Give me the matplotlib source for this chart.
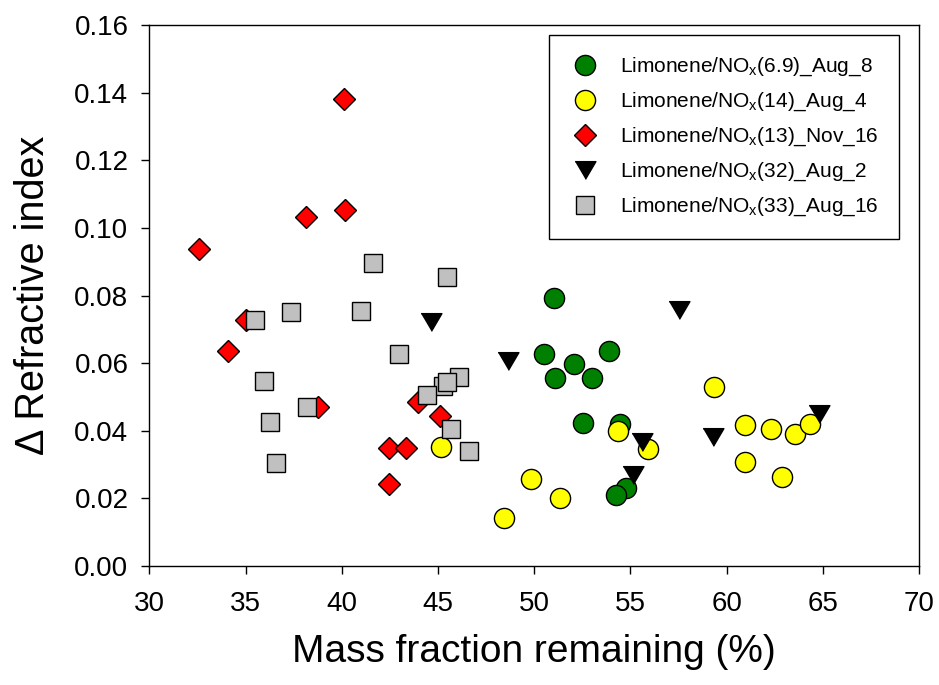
import matplotlib
matplotlib.use("Agg")
import matplotlib.pyplot as plt

plt.rcParams['font.family'] = ['Liberation Sans', 'DejaVu Sans']
plt.rcParams['mathtext.fontset'] = 'custom'
plt.rcParams['mathtext.rm'] = 'Liberation Sans'
plt.rcParams['mathtext.it'] = 'Liberation Sans'

# Limonene/NOx(6.9)_Aug_8
x_aug8 = [51.05, 50.51, 52.09, 53.91, 51.07, 53.01, 52.56, 54.46, 54.76, 54.26]
y_aug8 = [0.0793, 0.0627, 0.0597, 0.0635, 0.0556, 0.0557, 0.0422, 0.0420, 0.0232, 0.0209]

# Limonene/NOx(14)_Aug_4
x_aug4 = [45.15, 49.85, 51.36, 48.45, 54.38, 55.94, 59.33, 60.95, 62.31, 63.54, 64.34, 60.95, 62.87]
y_aug4 = [0.0351, 0.0258, 0.0200, 0.0141, 0.0400, 0.0345, 0.0529, 0.0417, 0.0404, 0.0391, 0.0420, 0.0308, 0.0263]

# Limonene/NOx(13)_Nov_16
x_nov16 = [40.14, 38.13, 40.16, 32.6, 35.05, 34.11, 38.75, 43.95, 45.11, 42.46, 43.33, 42.46]
y_nov16 = [0.1382, 0.1031, 0.1053, 0.0939, 0.0729, 0.0637, 0.0471, 0.0486, 0.0444, 0.0348, 0.0350, 0.0242]

# Limonene/NOx(32)_Aug_2
x_aug2 = [44.64, 48.66, 57.53, 55.59, 55.12, 59.31, 64.79]
y_aug2 = [0.0722, 0.0607, 0.0757, 0.0368, 0.0268, 0.0382, 0.0451]

# Limonene/NOx(33)_Aug_16
x_aug16 = [41.61, 45.49, 37.35, 35.49, 41.0, 42.99, 35.98, 46.1, 45.25, 45.46,
           44.42, 38.2, 36.29, 45.68, 46.6, 36.6]
y_aug16 = [0.0897, 0.0856, 0.0752, 0.0727, 0.0755, 0.0626, 0.0547, 0.0560, 0.0533, 0.0545,
           0.0506, 0.0469, 0.0425, 0.0404, 0.0340, 0.0306]

nox = r'Limonene/NO$_\mathregular{x}$'
labels = [nox + '(6.9)_Aug_8', nox + '(14)_Aug_4', nox + '(13)_Nov_16',
          nox + '(32)_Aug_2', nox + '(33)_Aug_16']

tri = [(-1, 0.85), (1, 0.85), (0, -0.85)]

fig = plt.figure(figsize=(9.39, 6.85), dpi=100)
ax = fig.add_axes([0.159, 0.1737, 0.8197, 0.7898])

ax.plot(x_aug8, y_aug8, 'o', ms=14.5, mfc='#008000', mec='black', mew=1, label=labels[0])
ax.plot(x_aug4, y_aug4, 'o', ms=14.5, mfc='#FFFF00', mec='black', mew=1, label=labels[1])
ax.plot(x_nov16, y_nov16, 'D', ms=11.5, mfc='#FF0000', mec='black', mew=1, label=labels[2])
ax.plot(x_aug2, y_aug2, ls='none', marker=tri, ms=15, mfc='black', mec='black', mew=1, label=labels[3])
ax.plot(x_aug16, y_aug16, 's', ms=12.7, mfc='#C0C0C0', mec='black', mew=1, label=labels[4])

ax.set_xlim(30, 70)
ax.set_ylim(0, 0.16)
ax.set_xticks(range(30, 71, 5))
ax.set_yticks([0.00, 0.02, 0.04, 0.06, 0.08, 0.10, 0.12, 0.14, 0.16])
ax.set_yticklabels(['0.00', '0.02', '0.04', '0.06', '0.08', '0.10', '0.12', '0.14', '0.16'])
ax.tick_params(axis='x', direction='out', length=6, width=1, labelsize=20, pad=12)
ax.tick_params(axis='y', direction='out', length=6, width=1, labelsize=20, pad=9)
for s in ax.spines.values():
    s.set_linewidth(1)

ax.set_xlabel('Mass fraction remaining (%)', fontsize=28, labelpad=12)
ax.set_ylabel('\u0394 Refractive index', fontsize=28.5, labelpad=16)

leg = ax.legend(loc='upper right', bbox_to_anchor=(0.974, 0.9815), borderaxespad=0,
                fontsize=15, frameon=True, fancybox=False, edgecolor='black',
                framealpha=1, labelspacing=0.6, handletextpad=0.9, borderpad=1.0,
                handlelength=1.5)
leg.get_frame().set_linewidth(1)

fig.savefig('out.png', dpi=100)
